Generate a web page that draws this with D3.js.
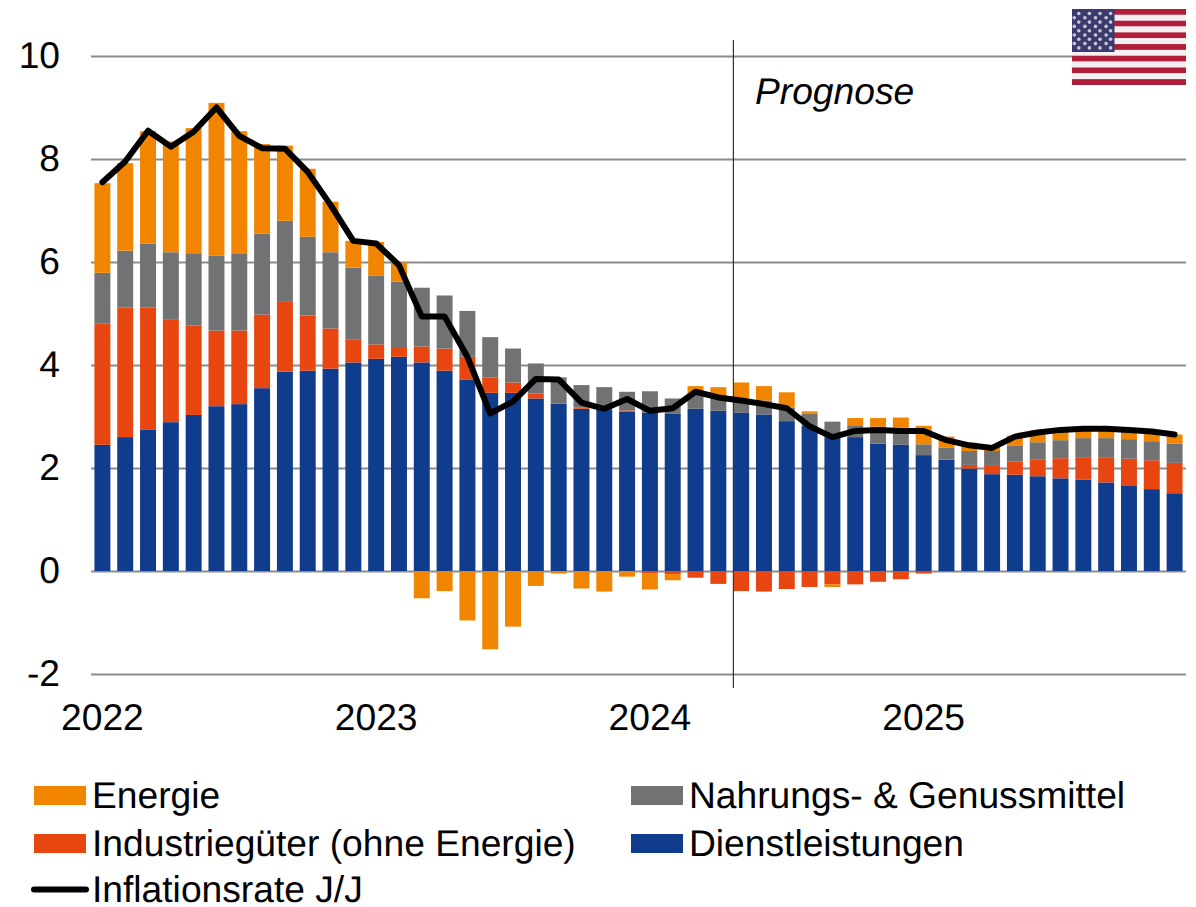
<!DOCTYPE html>
<html>
<head>
<meta charset="utf-8">
<script src="https://cdn.jsdelivr.net/npm/d3@7"></script>
<style>
  body { margin: 0; background: #fff; }
  text { font-family: "Liberation Sans", Arial, sans-serif; fill: #000; text-rendering: geometricPrecision; }
</style>
</head>
<body>
<div id="chart"></div>
<script>
// Monthly contributions, Jan 2022 - Dec 2025
var yearLabels = { 0: "2022", 12: "2023", 24: "2024", 36: "2025" };
var yTicks = [-2, 0, 2, 4, 6, 8, 10];

var dienstleistungen = [2.45, 2.60, 2.74, 2.89, 3.03, 3.20, 3.24, 3.55, 3.87, 3.89, 3.93, 4.05,
  4.12, 4.16, 4.05, 3.89, 3.72, 3.46, 3.46, 3.35, 3.25, 3.15, 3.14, 3.09,
  3.08, 3.05, 3.15, 3.11, 3.07, 3.04, 2.91, 2.82, 2.60, 2.60, 2.47, 2.45,
  2.25, 2.16, 1.99, 1.88, 1.87, 1.84, 1.80, 1.77, 1.72, 1.65, 1.59, 1.51];
var industrie = [2.36, 2.52, 2.38, 2.00, 1.74, 1.47, 1.43, 1.43, 1.37, 1.07, 0.78, 0.45,
  0.28, 0.19, 0.31, 0.43, 0.44, 0.30, 0.20, 0.10, 0, 0.02, 0, 0.03,
  -0.05, -0.06, -0.13, -0.25, -0.39, -0.40, -0.35, -0.31, -0.26, -0.26, -0.21, -0.16,
  -0.05, -0.01, 0.07, 0.16, 0.26, 0.33, 0.39, 0.44, 0.49, 0.53, 0.56, 0.59];
var nahrung = [0.98, 1.10, 1.24, 1.30, 1.40, 1.45, 1.50, 1.57, 1.56, 1.53, 1.48, 1.39,
  1.34, 1.27, 1.14, 1.03, 0.89, 0.78, 0.66, 0.58, 0.51, 0.44, 0.43, 0.36,
  0.41, 0.30, 0.30, 0.29, 0.27, 0.27, 0.26, 0.23, 0.30, 0.23, 0.33, 0.33,
  0.21, 0.24, 0.27, 0.29, 0.31, 0.33, 0.35, 0.37, 0.37, 0.38, 0.37, 0.37];
var energie = [1.74, 1.70, 2.18, 2.15, 2.43, 2.97, 2.37, 1.74, 1.46, 1.32, 0.98, 0.52,
  0.65, 0.37, -0.53, -0.39, -0.96, -1.52, -1.08, -0.29, -0.05, -0.34, -0.40, -0.11,
  -0.31, -0.12, 0.14, 0.17, 0.32, 0.28, 0.30, 0.05, -0.05, 0.14, 0.17, 0.20,
  0.36, 0.21, 0.16, 0.11, 0.19, 0.23, 0.22, 0.20, 0.20, 0.17, 0.18, 0.18];
var inflation = [7.55, 7.95, 8.55, 8.24, 8.53, 9.00, 8.45, 8.21, 8.20, 7.75, 7.11, 6.41,
  6.36, 5.94, 4.94, 4.94, 4.16, 3.06, 3.29, 3.73, 3.72, 3.27, 3.15, 3.34,
  3.11, 3.16, 3.48, 3.37, 3.31, 3.24, 3.16, 2.81, 2.60, 2.72, 2.74, 2.72,
  2.72, 2.54, 2.44, 2.39, 2.61, 2.69, 2.74, 2.76, 2.76, 2.74, 2.71, 2.65];

var seriesKeys = ["dienstleistungen", "industrie", "nahrung", "energie"];
var colors = { dienstleistungen: "#0f3c8c", industrie: "#e84610", nahrung: "#717274", energie: "#f28500" };
var forecastIndex = 27.66; // vertical line, in month units
var fontSize = "37.2px";

var months = d3.range(inflation.length);
var table = months.map(function(i) {
  return { i: i, dienstleistungen: dienstleistungen[i], industrie: industrie[i], nahrung: nahrung[i], energie: energie[i] };
});

var width = 1196, height = 907;
var svg = d3.select("#chart").append("svg")
  .attr("width", width)
  .attr("height", height)
  .style("display", "block");

var x = d3.scaleBand().domain(months).range([91, 1186]).paddingInner(0.3).paddingOuter(0.15);
var y = d3.scaleLinear().domain([-2, 10]).range([674, 56]);
var center = function(i) { return x(i) + x.bandwidth() / 2; };

// Grid and y labels
var yAxis = svg.append("g")
  .attr("transform", "translate(91,0)")
  .call(d3.axisLeft(y).tickValues(yTicks).tickSize(-1095).tickPadding(31).tickFormat(function(d) { return String(d); }));
yAxis.select(".domain").remove();
yAxis.selectAll("line").attr("stroke", "#8c8c8c").attr("stroke-width", 1.8);
yAxis.selectAll("text").style("font-size", fontSize).attr("font-family", null);

// Stacked bars
var stacked = d3.stack().keys(seriesKeys).offset(d3.stackOffsetDiverging)(table);
svg.append("g")
  .selectAll("g")
  .data(stacked)
  .enter().append("g")
  .attr("fill", function(d) { return colors[d.key]; })
  .selectAll("rect")
  .data(function(d) { return d; })
  .enter().append("rect")
  .attr("x", function(d) { return x(d.data.i); })
  .attr("y", function(d) { return y(Math.max(d[0], d[1])); })
  .attr("width", x.bandwidth())
  .attr("height", function(d) { return Math.abs(y(d[0]) - y(d[1])); });

// Year labels
var xAxis = svg.append("g")
  .attr("transform", "translate(0,704)")
  .call(d3.axisBottom(x)
    .tickValues(Object.keys(yearLabels).map(Number))
    .tickSize(0)
    .tickPadding(0)
    .tickFormat(function(d) { return yearLabels[d]; }));
xAxis.select(".domain").remove();
xAxis.selectAll("text").style("font-size", fontSize).attr("font-family", null);

// Forecast marker
var forecastX = x(0) + x.bandwidth() / 2 + forecastIndex * x.step();
svg.append("line")
  .attr("x1", forecastX).attr("x2", forecastX)
  .attr("y1", 40).attr("y2", 688)
  .attr("stroke", "#333").attr("stroke-width", 1.2);
svg.append("text")
  .attr("x", 755).attr("y", 104)
  .style("font-size", fontSize).style("font-style", "italic")
  .text("Prognose");

// Inflation line
var line = d3.line()
  .x(function(d, i) { return center(i); })
  .y(function(d) { return y(d); });
svg.append("path")
  .datum(inflation)
  .attr("d", line)
  .attr("fill", "none")
  .attr("stroke", "#000")
  .attr("stroke-width", 6)
  .attr("stroke-linecap", "round")
  .attr("stroke-linejoin", "round");

// Flag
var flag = svg.append("g").attr("transform", "translate(1072,9)");
var stripeH = 76 / 13;
flag.selectAll(".stripe")
  .data(d3.range(13))
  .enter().append("rect")
  .attr("class", "stripe")
  .attr("x", 0)
  .attr("y", function(d) { return d * stripeH; })
  .attr("width", 114)
  .attr("height", stripeH)
  .attr("fill", function(d) { return d % 2 ? "#f4f0f1" : "#b01e3a"; });
flag.append("rect").attr("width", 42.5).attr("height", 43).attr("fill", "#3c3b6e");
var stars = [];
d3.range(9).forEach(function(row) {
  d3.range(4).forEach(function(col) {
    stars.push({ row: row, col: col });
  });
});
flag.selectAll("circle")
  .data(stars)
  .enter().append("circle")
  .attr("cx", function(d) { return (d.row % 2 ? 2.3 : 6.8) + d.col * 10.6; })
  .attr("cy", function(d) { return 4.5 + d.row * 4.3; })
  .attr("r", 1.8)
  .attr("fill", "#c9c9d8");

// Legend
var legendBars = [
  { label: "Energie", key: "energie", x: 34, y: 786 },
  { label: "Industriegüter (ohne Energie)", key: "industrie", x: 34, y: 834 },
  { label: "Nahrungs- & Genussmittel", key: "nahrung", x: 631, y: 786 },
  { label: "Dienstleistungen", key: "dienstleistungen", x: 631, y: 834 }
];
var legend = svg.append("g");
legend.selectAll("rect")
  .data(legendBars)
  .enter().append("rect")
  .attr("x", function(d) { return d.x; })
  .attr("y", function(d) { return d.y; })
  .attr("width", 52)
  .attr("height", 19)
  .attr("fill", function(d) { return colors[d.key]; });
legend.selectAll("text")
  .data(legendBars)
  .enter().append("text")
  .attr("x", function(d) { return d.x + 58; })
  .attr("y", function(d) { return d.y + 22; })
  .style("font-size", fontSize)
  .text(function(d) { return d.label; });
legend.append("line")
  .attr("x1", 34).attr("x2", 86)
  .attr("y1", 889.5).attr("y2", 889.5)
  .attr("stroke", "#000").attr("stroke-width", 6)
  .attr("stroke-linecap", "round");
legend.append("text")
  .attr("x", 92).attr("y", 902)
  .style("font-size", fontSize)
  .text("Inflationsrate J/J");
</script>
</body>
</html>
